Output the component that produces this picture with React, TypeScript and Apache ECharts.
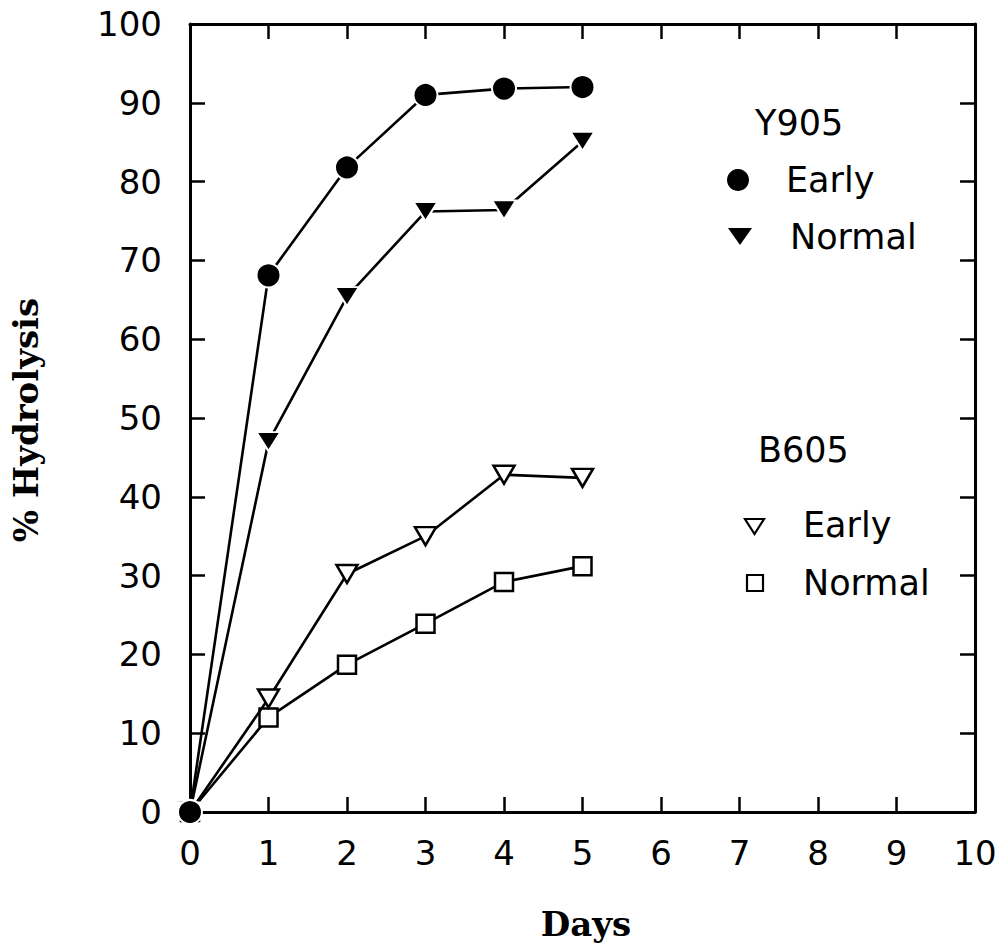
import React, { useEffect, useRef } from "react";
import * as echarts from "echarts";

const days = [0, 1, 2, 3, 4, 5];
const y905Early = [0, 68.1, 81.8, 91.0, 91.8, 92.0];
const y905Normal = [0, 47.0, 65.4, 76.2, 76.4, 85.1];
const b605Early = [0, 14.4, 30.2, 35.0, 42.8, 42.4];
const b605Normal = [0, 12.0, 18.7, 23.9, 29.2, 31.2];

const xTicks = { min: 0, max: 10, interval: 1 };
const yTicks = { min: 0, max: 100, interval: 10 };

const FONT = "DejaVu Sans";
const SERIF = "DejaVu Serif";

const pairs = (ys: number[]) => days.map((d, i) => [d, ys[i]]);

export default function App() {
  const ref = useRef<HTMLDivElement>(null);
  useEffect(() => {
    if (!ref.current) return;
    const chart = echarts.init(ref.current, null, { renderer: "svg" });
    const lineStyle = { color: "#000", width: 2.6 };
    const axisCommon = {
      type: "value" as const,
      splitLine: { show: false },
      axisLine: { show: true, onZero: false, lineStyle: { color: "#000", width: 3 } },
      axisTick: { show: true, inside: true, length: 15, lineStyle: { color: "#000", width: 2.5 } },
    };
    const labelStyle = { color: "#000", fontFamily: FONT, fontSize: 34 };
    chart.setOption({
      animation: false,
      backgroundColor: "#fff",
      grid: { left: 190, right: 28, top: 24, bottom: 136 },
      xAxis: [
        { ...axisCommon, ...xTicks, position: "bottom", axisLabel: { ...labelStyle, margin: 24 } },
        { ...axisCommon, ...xTicks, position: "top", axisLabel: { show: false } },
      ],
      yAxis: [
        { ...axisCommon, ...yTicks, position: "left", axisLabel: { ...labelStyle, margin: 28 } },
        { ...axisCommon, ...yTicks, position: "right", axisLabel: { show: false } },
      ],
      series: [
        {
          type: "line",
          data: pairs(b605Normal),
          lineStyle,
          symbol: "rect",
          symbolSize: 18,
          itemStyle: { color: "#fff", borderColor: "#000", borderWidth: 2.5 },
          z: 2,
        },
        {
          type: "line",
          data: pairs(b605Early),
          lineStyle,
          symbol: "triangle",
          symbolRotate: 180,
          symbolSize: [21, 18],
          itemStyle: { color: "#fff", borderColor: "#000", borderWidth: 2.5 },
          z: 3,
        },
        {
          type: "line",
          data: pairs(y905Normal),
          lineStyle,
          symbol: "triangle",
          symbolRotate: 180,
          symbolSize: [24, 19],
          itemStyle: { color: "#000", borderColor: "#fff", borderWidth: 2 },
          z: 4,
        },
        {
          type: "line",
          data: pairs(y905Early),
          lineStyle,
          symbol: "circle",
          symbolSize: 24,
          itemStyle: { color: "#000", borderColor: "#fff", borderWidth: 2 },
          z: 5,
        },
      ],
      graphic: [
        {
          type: "text",
          x: 586,
          y: 924,
          style: { text: "Days", font: `bold 34px "${SERIF}"`, fill: "#000", align: "center", verticalAlign: "middle" },
        },
        {
          type: "text",
          x: 26,
          y: 420,
          rotation: Math.PI / 2,
          style: { text: "% Hydrolysis", font: `bold 34px "${SERIF}"`, fill: "#000", align: "center", verticalAlign: "middle" },
        },
        { type: "text", x: 755, y: 123, style: { text: "Y905", font: `35px "${FONT}"`, fill: "#000", verticalAlign: "middle" } },
        { type: "circle", shape: { cx: 738, cy: 180, r: 11 }, style: { fill: "#000" } },
        { type: "text", x: 786, y: 180, style: { text: "Early", font: `35px "${FONT}"`, fill: "#000", verticalAlign: "middle" } },
        { type: "polygon", shape: { points: [[728, 228], [752, 228], [740, 245]] }, style: { fill: "#000" } },
        { type: "text", x: 790, y: 237, style: { text: "Normal", font: `35px "${FONT}"`, fill: "#000", verticalAlign: "middle" } },
        { type: "text", x: 758, y: 450, style: { text: "B605", font: `35px "${FONT}"`, fill: "#000", verticalAlign: "middle" } },
        { type: "polygon", shape: { points: [[745, 519], [764, 519], [754.5, 534]] }, style: { fill: "#fff", stroke: "#000", lineWidth: 2.2 } },
        { type: "text", x: 803, y: 525, style: { text: "Early", font: `35px "${FONT}"`, fill: "#000", verticalAlign: "middle" } },
        { type: "rect", shape: { x: 747, y: 575, width: 16, height: 16 }, style: { fill: "#fff", stroke: "#000", lineWidth: 2.2 } },
        { type: "text", x: 803, y: 583, style: { text: "Normal", font: `35px "${FONT}"`, fill: "#000", verticalAlign: "middle" } },
      ],
    });
    return () => chart.dispose();
  }, []);
  return <div ref={ref} style={{ position: "absolute", left: 0, top: 0, width: 1003, height: 948 }} />;
}
